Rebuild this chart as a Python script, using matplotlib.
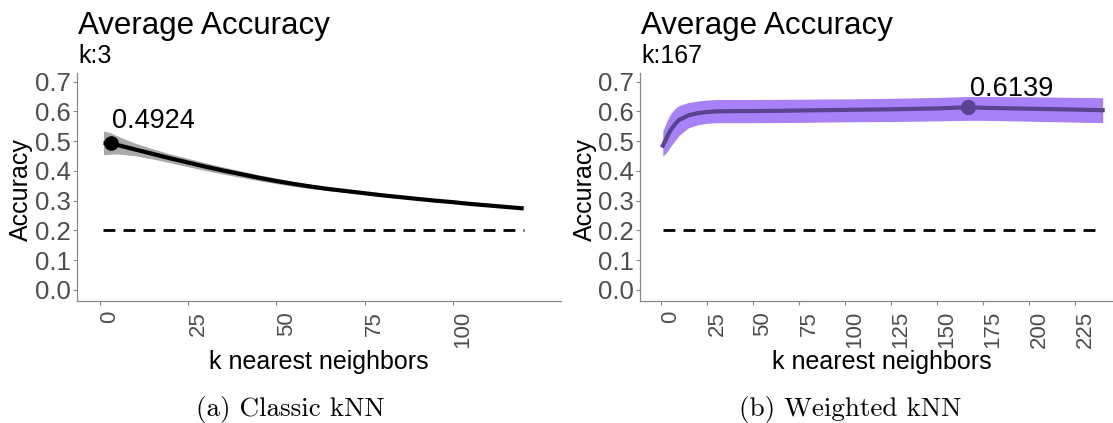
import matplotlib
matplotlib.use("Agg")
import matplotlib.pyplot as plt
from matplotlib.ticker import FormatStrFormatter
from matplotlib.transforms import ScaledTranslation

# ---------------- data ----------------
k_classic = [1, 3, 5, 10, 15, 20, 25, 30, 35, 40, 45, 50, 55, 60, 65, 70,
             75, 80, 85, 90, 95, 100, 105, 110, 115, 120]
acc_classic = [0.494, 0.4924, 0.487, 0.472, 0.457, 0.442, 0.428, 0.414, 0.401,
               0.389, 0.377, 0.366, 0.356, 0.347, 0.339, 0.332, 0.325, 0.318,
               0.312, 0.306, 0.300, 0.295, 0.289, 0.284, 0.279, 0.274]
half_classic = [0.040, 0.036, 0.030, 0.021, 0.017, 0.015, 0.014, 0.013, 0.012,
                0.011, 0.010, 0.009, 0.008, 0.007, 0.006, 0.005, 0.004, 0.004,
                0.003, 0.003, 0.002, 0.002, 0.002, 0.001, 0.001, 0.001]
best_k_classic = 3
best_acc_classic = 0.4924

k_weighted = [1, 3, 5, 8, 10, 15, 20, 25, 30, 40, 50, 75, 100, 125, 150, 167,
              175, 200, 225, 240]
acc_weighted = [0.485, 0.510, 0.535, 0.560, 0.572, 0.587, 0.594, 0.598, 0.600,
                0.601, 0.601, 0.603, 0.605, 0.607, 0.610, 0.6139, 0.612, 0.609,
                0.606, 0.604]
upper_weighted = [0.533, 0.565, 0.590, 0.612, 0.620, 0.630, 0.635, 0.638, 0.640,
                  0.640, 0.640, 0.641, 0.642, 0.644, 0.647, 0.650, 0.650, 0.649,
                  0.647, 0.646]
lower_weighted = [0.449, 0.462, 0.480, 0.505, 0.520, 0.545, 0.555, 0.560, 0.562,
                  0.562, 0.562, 0.563, 0.565, 0.566, 0.568, 0.570, 0.570, 0.567,
                  0.564, 0.562]
best_k_weighted = 167
best_acc_weighted = 0.6139

chance_level = 0.2
y_ticks = [0.0, 0.1, 0.2, 0.3, 0.4, 0.5, 0.6, 0.7]
x_ticks_classic = [0, 25, 50, 75, 100]
x_ticks_weighted = [0, 25, 50, 75, 100, 125, 150, 175, 200, 225]

title_text = "Average Accuracy"
sub_classic = "k:3"
sub_weighted = "k:167"
xlabel_text = "k nearest neighbors"
ylabel_text = "Accuracy"
caption_classic = "(a) Classic kNN"
caption_weighted = "(b) Weighted kNN"

# ---------------- style ----------------
plt.rcParams['font.family'] = ['Liberation Sans', 'DejaVu Sans']
plt.rcParams['lines.scale_dashes'] = False

W, H = 1113, 423
fig = plt.figure(figsize=(W / 100, H / 100), dpi=100)
fig.patch.set_facecolor('white')

def px_axes(x0, x1, ytop, ybot):
    return fig.add_axes([x0 / W, 1 - ybot / H, (x1 - x0) / W, (ybot - ytop) / H])

YTICK_SIZE = 18.5
XTICK_SIZE = 16
AX_TITLE = 18
TICK_COL = '#4d4d4d'
SPINE_COL = '#888888'

def style_axes(ax, xticks, xlim):
    ax.set_ylim(-0.036, 0.730)
    ax.set_xlim(*xlim)
    for s in ['top', 'right']:
        ax.spines[s].set_visible(False)
    for s in ['left', 'bottom']:
        ax.spines[s].set_color(SPINE_COL)
        ax.spines[s].set_linewidth(0.9)
    ax.set_yticks(y_ticks)
    ax.yaxis.set_major_formatter(FormatStrFormatter('%.1f'))
    ax.set_xticks(xticks)
    ax.set_xticklabels([str(t) for t in xticks], rotation=90, va='top', ha='center')
    ax.tick_params(axis='both', length=3, width=0.8, color=SPINE_COL,
                   labelcolor=TICK_COL)
    ax.tick_params(axis='y', pad=1.2, labelsize=YTICK_SIZE)
    ax.tick_params(axis='x', pad=4.5, labelsize=XTICK_SIZE)
    off = ScaledTranslation(10 / 100, 0, fig.dpi_scale_trans)
    for lab in ax.get_xticklabels():
        lab.set_transform(lab.get_transform() + off)

# ---------------- panel (a) ----------------
axL = px_axes(77, 560.7, 72.7, 300.7)
style_axes(axL, x_ticks_classic, (-6.5, 130.5))
lo_c = [a - h for a, h in zip(acc_classic, half_classic)]
hi_c = [a + h for a, h in zip(acc_classic, half_classic)]
axL.fill_between(k_classic, lo_c, hi_c, color='#a8a8a8', linewidth=0, zorder=1)
axL.plot(k_classic, acc_classic, color='black', linewidth=3.0,
         solid_capstyle='butt', zorder=3)
axL.plot([k_classic[0], k_classic[-1]], [chance_level, chance_level],
         color='black', linewidth=2.0, dashes=(8.6, 5.8), zorder=2)
axL.plot([best_k_classic], [best_acc_classic], 'o', color='black',
         markersize=9.5, zorder=4)
axL.annotate(f"{best_acc_classic:.4f}", (best_k_classic, best_acc_classic),
             xytext=(1, 15 * 0.72), textcoords='offset points',
             fontsize=19.5, color='black', ha='left', va='baseline')

# ---------------- panel (b) ----------------
axR = px_axes(640, 1113, 72.7, 300.7)
style_axes(axR, x_ticks_weighted, (-11.4, 245.6))
axR.fill_between(k_weighted, lower_weighted, upper_weighted, color='#a880f7',
                 linewidth=0, zorder=1)
axR.plot(k_weighted, acc_weighted, color='#5a448f', linewidth=3.0, zorder=3)
axR.plot([k_weighted[0], k_weighted[-1]], [chance_level, chance_level],
         color='black', linewidth=2.0, dashes=(8.6, 5.8), zorder=2)
axR.plot([best_k_weighted], [best_acc_weighted], 'o', color='#5a448f',
         markersize=10, zorder=4)
axR.annotate(f"{best_acc_weighted:.4f}", (best_k_weighted, best_acc_weighted),
             xytext=(2 * 0.72, 11 * 0.72), textcoords='offset points',
             fontsize=19.5, color='black', ha='left', va='baseline')

# ---------------- titles / labels ----------------
for x0, sub, xl_center, ylab_x, cap_x, cap in [
        (77, sub_classic, 318.9, 33.3, 290, caption_classic),
        (640, sub_weighted, 882, 597, 850, caption_weighted)]:
    fig.text((x0 + 1) / W, 1 - 34 / H, title_text, fontsize=22.5, color='black',
             ha='left', va='baseline')
    fig.text((x0 + 1) / W, 1 - 63 / H, sub, fontsize=18, color='black',
             ha='left', va='baseline')
    fig.text(xl_center / W, 1 - 369 / H, xlabel_text, fontsize=AX_TITLE,
             color='black', ha='center', va='baseline')
    fig.text(ylab_x / W, 1 - 190 / H, ylabel_text, fontsize=AX_TITLE,
             color='black', rotation=90, ha='right', va='center')
    fig.text(cap_x / W, 1 - 416 / H, cap, fontsize=19.5, family='cmr10',
             color='black', ha='center', va='baseline')

fig.savefig('out.png', dpi=100, facecolor='white')
